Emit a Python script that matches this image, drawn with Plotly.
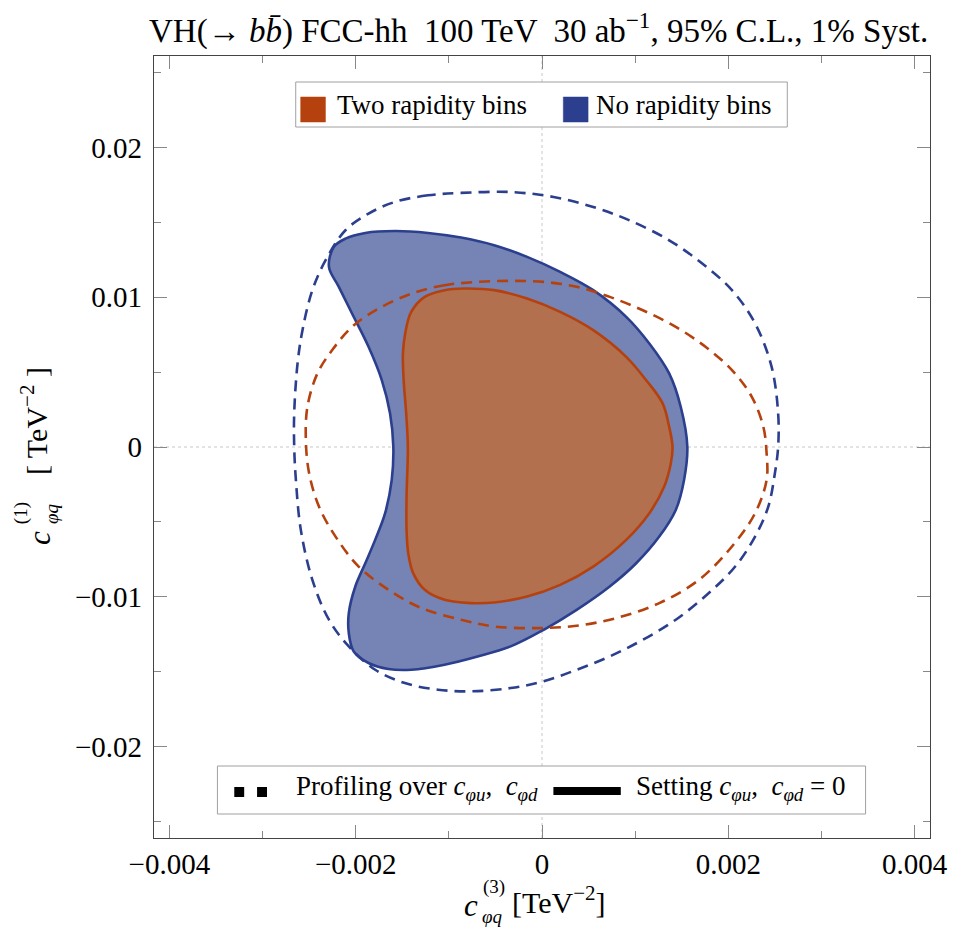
import plotly.graph_objects as go

# ---------------- data ----------------
# No rapidity bins, setting c_phiu, c_phid = 0 (solid, filled)
blue_solid_x = [-0.000691, -0.001046, -0.001401, -0.001649, -0.001862, -0.002021, -0.002074, -0.002074,
                -0.002004, -0.001897, -0.001791, -0.001684, -0.001613, -0.001596, -0.001631, -0.001720,
                -0.001862, -0.002039, -0.002181, -0.002287, -0.002234, -0.002110, -0.001897, -0.001578,
                -0.001223, -0.000869, -0.000514, -0.000160, 0.000195, 0.000550, 0.000904, 0.001152,
                0.001365, 0.001489, 0.001560, 0.001525, 0.001436, 0.001259, 0.001011, 0.000727,
                0.000372, 0.000018, -0.000337, -0.000691]
blue_solid_y = [-0.01398, -0.01453, -0.01487, -0.01482, -0.01442, -0.01365, -0.01242, -0.01109,
                -0.00931, -0.00776, -0.00620, -0.00442, -0.00220, 0.00002, 0.00224, 0.00447,
                0.00669, 0.00891, 0.01069, 0.01202, 0.01336, 0.01391, 0.01429, 0.01442,
                0.01429, 0.01398, 0.01347, 0.01269, 0.01169, 0.01047, 0.00869, 0.00691,
                0.00491, 0.00269, 0.00002, -0.00220, -0.00420, -0.00598, -0.00776, -0.00931,
                -0.01087, -0.01220, -0.01331, -0.01398]

# Two rapidity bins, setting c_phiu, c_phid = 0 (solid, filled)
orange_solid_x = [-0.001454, -0.001440, -0.001458, -0.001485, -0.001493, -0.001468, -0.001405, -0.001259,
                  -0.001046, -0.000833, -0.000514, -0.000160, 0.000195, 0.000550, 0.000904, 0.001117,
                  0.001295, 0.001365, 0.001401, 0.001383, 0.001312, 0.001152, 0.000904, 0.000550,
                  0.000195, -0.000160, -0.000514, -0.000763, -0.001046, -0.001259, -0.001383, -0.001436,
                  -0.001454, -0.001454]
orange_solid_y = [-0.00331, 0.00002, 0.00224, 0.00447, 0.00624, 0.00760, 0.00900, 0.01002,
                  0.01047, 0.01058, 0.01047, 0.00991, 0.00902, 0.00780, 0.00602, 0.00447,
                  0.00291, 0.00135, 0.00002, -0.00109, -0.00264, -0.00442, -0.00620, -0.00798,
                  -0.00920, -0.00998, -0.01038, -0.01042, -0.01020, -0.00953, -0.00842, -0.00709,
                  -0.00553, -0.00331]

# No rapidity bins, profiling over c_phiu, c_phid (dashed)
blue_dash_x = [-0.000869, -0.001223, -0.001578, -0.001862, -0.002110, -0.002323, -0.002465, -0.002571,
               -0.002624, -0.002660, -0.002660, -0.002642, -0.002589, -0.002465, -0.002287, -0.002074,
               -0.001791, -0.001472, -0.001117, -0.000763, -0.000337, 0.000018, 0.000372, 0.000727,
               0.001082, 0.001436, 0.001791, 0.002074, 0.002287, 0.002429, 0.002500, 0.002535,
               0.002535, 0.002465, 0.002287, 0.002039, 0.001720, 0.001365, 0.000939, 0.000550,
               0.000124, -0.000337, -0.000869]
blue_dash_y = [0.01696, 0.01680, 0.01636, 0.01558, 0.01447, 0.01247, 0.01047, 0.00780,
               0.00558, 0.00224, 0.00002, -0.00220, -0.00553, -0.00887, -0.01153, -0.01331,
               -0.01487, -0.01576, -0.01620, -0.01631, -0.01609, -0.01564, -0.01487, -0.01398,
               -0.01287, -0.01153, -0.00975, -0.00798, -0.00598, -0.00398, -0.00175, 0.00002,
               0.00224, 0.00535, 0.00825, 0.01047, 0.01225, 0.01380, 0.01513, 0.01602,
               0.01669, 0.01702, 0.01696]

# Two rapidity bins, profiling over c_phiu, c_phid (dashed)
orange_dash_x = [-0.000691, -0.001046, -0.001401, -0.001755, -0.002039, -0.002252, -0.002411, -0.002518,
                 -0.002535, -0.002500, -0.002394, -0.002216, -0.001968, -0.001649, -0.001295, -0.000869,
                 -0.000514, -0.000053, 0.000372, 0.000798, 0.001259, 0.001684, 0.002039, 0.002287,
                 0.002411, 0.002411, 0.002376, 0.002252, 0.002039, 0.001755, 0.001436, 0.001082,
                 0.000727, 0.000372, 0.000018, -0.000337, -0.000691]
orange_dash_y = [0.01102, 0.01080, 0.01024, 0.00924, 0.00802, 0.00647, 0.00491, 0.00269,
                 0.00047, -0.00175, -0.00398, -0.00598, -0.00798, -0.00953, -0.01075, -0.01153,
                 -0.01198, -0.01209, -0.01193, -0.01142, -0.01042, -0.00887, -0.00664, -0.00442,
                 -0.00220, -0.00042, 0.00135, 0.00335, 0.00513, 0.00669, 0.00802, 0.00913,
                 0.01002, 0.01069, 0.01102, 0.01109, 0.01102]

x_ticks = [-0.004, -0.002, 0, 0.002, 0.004]
x_tick_labels = ["\u22120.004", "\u22120.002", "0", "0.002", "0.004"]
y_ticks = [-0.02, -0.01, 0, 0.01, 0.02]
y_tick_labels = ["\u22120.02", "\u22120.01", "0", "0.01", "0.02"]

legend_top_labels = ["Two rapidity bins", "No rapidity bins"]
legend_bottom_labels = ["Profiling over <i>c</i><sub><i>\u03c6u</i></sub>,  <i>c</i><sub><i>\u03c6d</i></sub>",
                        "Setting <i>c</i><sub><i>\u03c6u</i></sub>,  <i>c</i><sub><i>\u03c6d</i></sub> = 0"]

# ---------------- styles ----------------
FONT = "Liberation Serif"
ORANGE_LINE = "#B5420E"
ORANGE_FILL = "#B3704E"
BLUE_LINE = "#2B3F8E"
BLUE_FILL = "#7584B5"
DASH = "11px,7px"

W, H = 960, 935
ML, MR, MT, MB = 154, 23, 56, 97
PW, PH = W - ML - MR, H - MT - MB


def px(x):
    return (x - ML) / PW


def py(y):
    return (H - MB - y) / PH


fig = go.Figure()

fig.add_trace(go.Scatter(x=blue_solid_x, y=blue_solid_y, mode="lines", fill="toself",
                         fillcolor=BLUE_FILL, line=dict(color=BLUE_LINE, width=2.6, shape="spline", smoothing=1),
                         showlegend=False, hoverinfo="skip"))
fig.add_trace(go.Scatter(x=orange_solid_x, y=orange_solid_y, mode="lines", fill="toself",
                         fillcolor=ORANGE_FILL, line=dict(color=ORANGE_LINE, width=2.6, shape="spline", smoothing=1),
                         showlegend=False, hoverinfo="skip"))
fig.add_trace(go.Scatter(x=blue_dash_x, y=blue_dash_y, mode="lines",
                         line=dict(color=BLUE_LINE, width=2.6, dash=DASH, shape="spline", smoothing=1),
                         showlegend=False, hoverinfo="skip"))
fig.add_trace(go.Scatter(x=orange_dash_x, y=orange_dash_y, mode="lines",
                         line=dict(color=ORANGE_LINE, width=2.6, dash=DASH, shape="spline", smoothing=1),
                         showlegend=False, hoverinfo="skip"))

shapes = [
    dict(type="line", xref="x", yref="paper", x0=0, x1=0, y0=0, y1=1,
         line=dict(color="#c8c8c8", width=1, dash="dot"), layer="below"),
    dict(type="line", xref="paper", yref="y", x0=0, x1=1, y0=0, y1=0,
         line=dict(color="#c8c8c8", width=1, dash="dot"), layer="below"),
    # top legend
    dict(type="rect", xref="paper", yref="paper", x0=px(297), x1=px(793), y0=py(127), y1=py(82),
         line=dict(color="#a0a0a0", width=1), fillcolor="white"),
    dict(type="rect", xref="paper", yref="paper", x0=px(302), x1=px(327), y0=py(122), y1=py(97),
         line=dict(color=ORANGE_LINE, width=0.5), fillcolor=ORANGE_LINE),
    dict(type="rect", xref="paper", yref="paper", x0=px(567), x1=px(592), y0=py(122), y1=py(97),
         line=dict(color=BLUE_LINE, width=0.5), fillcolor=BLUE_LINE),
    # bottom legend
    dict(type="rect", xref="paper", yref="paper", x0=px(218), x1=px(872), y0=py(814), y1=py(766),
         line=dict(color="#a0a0a0", width=1), fillcolor="white"),
    dict(type="rect", xref="paper", yref="paper", x0=px(235), x1=px(245), y0=py(797), y1=py(787),
         line=dict(width=0), fillcolor="black"),
    dict(type="rect", xref="paper", yref="paper", x0=px(258), x1=px(268), y0=py(797), y1=py(787),
         line=dict(width=0), fillcolor="black"),
    dict(type="rect", xref="paper", yref="paper", x0=px(557), x1=px(625), y0=py(795), y1=py(787),
         line=dict(width=0), fillcolor="black"),
]

ann = []


def add_text(text, x, y, size, xanchor="left", yanchor="middle", angle=0):
    ann.append(dict(text=text, xref="paper", yref="paper", x=px(x), y=py(y), showarrow=False,
                    xanchor=xanchor, yanchor=yanchor, textangle=angle,
                    font=dict(family=FONT, size=size, color="black")))


# title
add_text("VH(\u2192 <i>b</i><i>b\u0304</i>) FCC-hh  100 TeV  30 ab<sup>\u22121</sup>, 95% C.L., 1% Syst.",
         542, 28, 33, xanchor="center")
# legends text
add_text(legend_top_labels[0], 337, 105, 27)
add_text(legend_top_labels[1], 598, 105, 27)
add_text(legend_bottom_labels[0], 295, 788, 27)
add_text(legend_bottom_labels[1], 638, 788, 27)

# x axis title (stacked sub/superscripts)
add_text("<i>c</i>", 474, 905, 31, xanchor="center")
add_text("(3)", 497, 887, 19, xanchor="center")
add_text("<i>\u03c6q</i>", 496, 916, 19, xanchor="center")
add_text("[TeV<sup>\u22122</sup>]", 513, 900, 30)

# y axis title (rotated)
add_text("<i>c</i>", 38, 538, 31, xanchor="center", angle=-90)
add_text("(1)", 20, 513, 19, xanchor="center", angle=-90)
add_text("<i>\u03c6q</i>", 50, 513, 19, xanchor="center", angle=-90)
add_text("[ TeV<sup>\u22122</sup> ]", 33, 421, 30, xanchor="center", angle=-90)

axis_common = dict(showgrid=False, zeroline=False, showline=True, linecolor="#444", linewidth=1.2,
                   mirror="ticks", ticks="inside", ticklen=13, tickwidth=1, tickcolor="#888",
                   tickfont=dict(family=FONT, size=29, color="black"))

fig.update_layout(
    width=W, height=H, margin=dict(l=ML, r=MR, t=MT, b=MB),
    paper_bgcolor="white", plot_bgcolor="white",
    xaxis=dict(range=[-0.004165, 0.004165], tickvals=x_ticks, ticktext=x_tick_labels,
               minor=dict(dtick=0.001, tick0=0, ticklen=7, tickcolor="#888", ticks="inside"),
               **axis_common),
    yaxis=dict(range=[-0.0261, 0.0261], tickvals=y_ticks, ticktext=y_tick_labels,
               ticklabelstandoff=5,
               minor=dict(dtick=0.005, tick0=0, ticklen=7, tickcolor="#888", ticks="inside"),
               **axis_common),
    shapes=shapes, annotations=ann, showlegend=False,
)

fig.write_html("out.html")
